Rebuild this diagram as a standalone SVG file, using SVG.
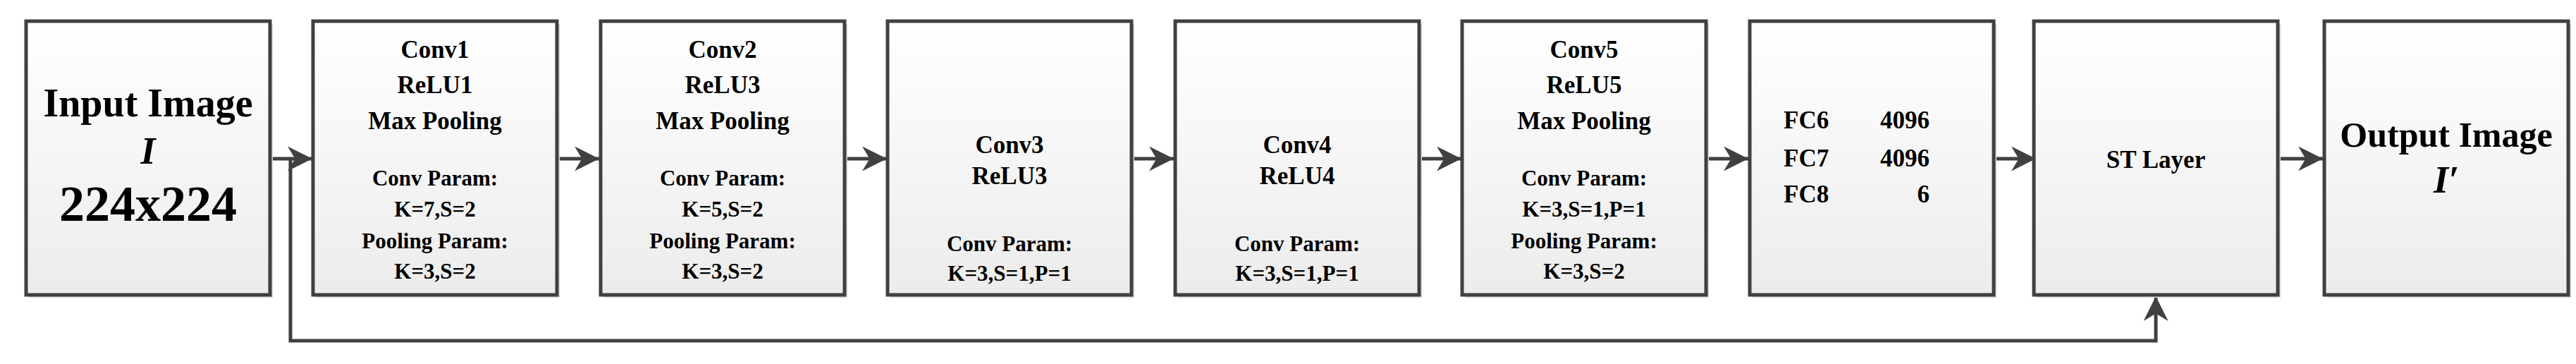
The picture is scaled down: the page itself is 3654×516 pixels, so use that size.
<svg xmlns="http://www.w3.org/2000/svg" width="3654" height="516" viewBox="0 0 3654 516">
<defs>
<linearGradient id="g" x1="0" y1="0" x2="0" y2="1"><stop offset="0" stop-color="#ffffff"/><stop offset="1" stop-color="#ececec"/></linearGradient>
<marker id="ah" viewBox="0 0 10 10" refX="10" refY="5" markerWidth="7" markerHeight="7" orient="auto" markerUnits="strokeWidth"><path d="M0,0 L10,5 L0,10 L3,5 z" fill="#404040"/></marker>
<style>
.box{fill:url(#g);stroke:#404040;stroke-width:5}
.sh{fill:#d8d8d8}
text{font-weight:bold;fill:#000;text-anchor:middle}
.t{font-size:35px}.p{font-size:31px}
.c{fill:none;stroke:#404040;stroke-width:5}
</style>
</defs>
<g id="connectors">
<path class="c" d="M383,225 H443" marker-end="url(#ah)"/>
<path class="c" d="M790,225 H850" marker-end="url(#ah)"/>
<path class="c" d="M1198,225 H1258" marker-end="url(#ah)"/>
<path class="c" d="M1605,225 H1665" marker-end="url(#ah)"/>
<path class="c" d="M2013,225 H2073" marker-end="url(#ah)"/>
<path class="c" d="M2420,225 H2480" marker-end="url(#ah)"/>
<path class="c" d="M2828,225 H2888" marker-end="url(#ah)"/>
<path class="c" d="M3235,225 H3295" marker-end="url(#ah)"/>
<path class="c" d="M412,225 V483 H3058 V420" marker-end="url(#ah)"/>
</g>
<g font-family="'Liberation Serif', 'DejaVu Serif', serif">
<g id="input"><rect class="sh" x="41" y="34" width="346" height="388"/><rect class="box" x="37" y="30" width="346" height="388"/>
<text x="210" y="165" style="font-size:56px">Input Image</text><text x="210" y="232" style="font-size:54px;font-style:italic">I</text><text x="210" y="313" style="font-size:72px">224x224</text></g>
<g id="conv1"><rect class="sh" x="448" y="34" width="346" height="388"/><rect class="box" x="444" y="30" width="346" height="388"/>
<text class="t" x="617" y="82">Conv1</text><text class="t" x="617" y="132">ReLU1</text><text class="t" x="617" y="183">Max Pooling</text>
<text class="p" x="617" y="263">Conv Param:</text><text class="p" x="617" y="307">K=7,S=2</text><text class="p" x="617" y="352">Pooling Param:</text><text class="p" x="617" y="395">K=3,S=2</text></g>
<g id="conv2"><rect class="sh" x="856" y="34" width="346" height="388"/><rect class="box" x="852" y="30" width="346" height="388"/>
<text class="t" x="1025" y="82">Conv2</text><text class="t" x="1025" y="132">ReLU3</text><text class="t" x="1025" y="183">Max Pooling</text>
<text class="p" x="1025" y="263">Conv Param:</text><text class="p" x="1025" y="307">K=5,S=2</text><text class="p" x="1025" y="352">Pooling Param:</text><text class="p" x="1025" y="395">K=3,S=2</text></g>
<g id="conv3"><rect class="sh" x="1263" y="34" width="346" height="388"/><rect class="box" x="1259" y="30" width="346" height="388"/>
<text class="t" x="1432" y="217">Conv3</text><text class="t" x="1432" y="261">ReLU3</text>
<text class="p" x="1432" y="356">Conv Param:</text><text class="p" x="1432" y="398">K=3,S=1,P=1</text></g>
<g id="conv4"><rect class="sh" x="1671" y="34" width="346" height="388"/><rect class="box" x="1667" y="30" width="346" height="388"/>
<text class="t" x="1840" y="217">Conv4</text><text class="t" x="1840" y="261">ReLU4</text>
<text class="p" x="1840" y="356">Conv Param:</text><text class="p" x="1840" y="398">K=3,S=1,P=1</text></g>
<g id="conv5"><rect class="sh" x="2078" y="34" width="346" height="388"/><rect class="box" x="2074" y="30" width="346" height="388"/>
<text class="t" x="2247" y="82">Conv5</text><text class="t" x="2247" y="132">ReLU5</text><text class="t" x="2247" y="183">Max Pooling</text>
<text class="p" x="2247" y="263">Conv Param:</text><text class="p" x="2247" y="307">K=3,S=1,P=1</text><text class="p" x="2247" y="352">Pooling Param:</text><text class="p" x="2247" y="395">K=3,S=2</text></g>
<g id="fc"><rect class="sh" x="2486" y="34" width="346" height="388"/><rect class="box" x="2482" y="30" width="346" height="388"/>
<text class="t" x="2530" y="182" style="text-anchor:start">FC6</text><text class="t" x="2737" y="182" style="text-anchor:end">4096</text>
<text class="t" x="2530" y="236" style="text-anchor:start">FC7</text><text class="t" x="2737" y="236" style="text-anchor:end">4096</text>
<text class="t" x="2530" y="287" style="text-anchor:start">FC8</text><text class="t" x="2737" y="287" style="text-anchor:end">6</text></g>
<g id="st"><rect class="sh" x="2889" y="34" width="346" height="388"/><rect class="box" x="2885" y="30" width="346" height="388"/>
<text class="t" x="3058" y="238">ST Layer</text></g>
<g id="output"><rect class="sh" x="3301" y="34" width="346" height="388"/><rect class="box" x="3297" y="30" width="346" height="388"/>
<text x="3470" y="208" style="font-size:50px">Output Image</text><text x="3470" y="273" style="font-size:54px;font-style:italic">I′</text></g>
</g>
</svg>
